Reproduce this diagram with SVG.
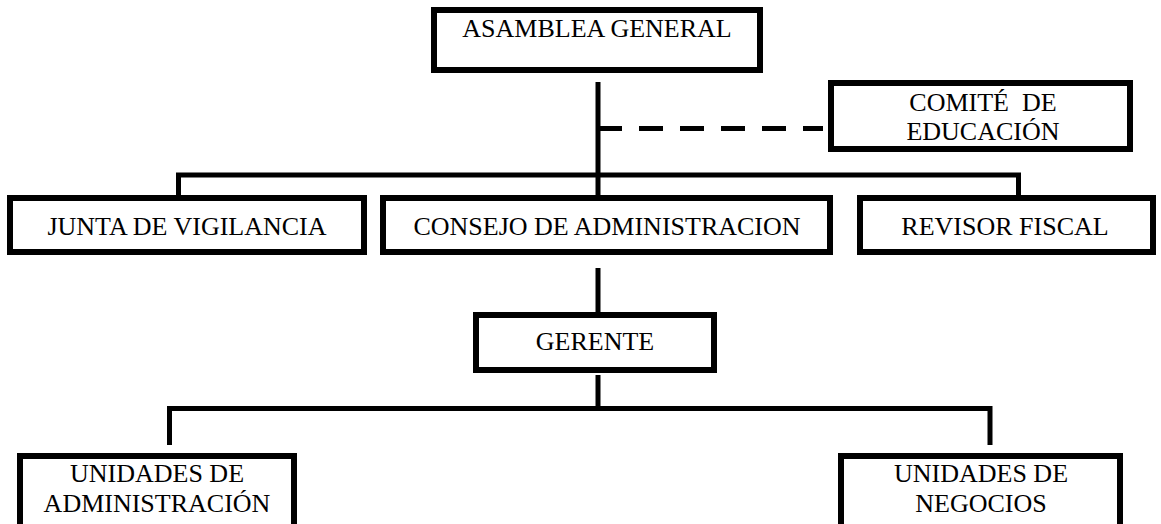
<svg xmlns="http://www.w3.org/2000/svg" width="1161" height="524" viewBox="0 0 1161 524">
<style>
.box{fill:#fff;stroke:#000;stroke-width:6}
.t{font-family:"Liberation Serif","Times New Roman",serif;font-size:26px;fill:#000;text-anchor:middle}
.c{fill:none;stroke:#000;stroke-width:5;stroke-linejoin:miter}
.d{fill:none;stroke:#000;stroke-width:5;stroke-dasharray:24 17}
</style>
<rect width="1161" height="524" fill="#fff"/>
<g id="connectors">
<path class="c" d="M598 82 V195"/>
<path class="d" d="M598 128.5 H823"/>
<path class="c" d="M178.5 195 V175 H1018.5 V195"/>
<path class="c" d="M598 268 V312"/>
<path class="c" d="M598 375 V408.5"/>
<path class="c" d="M169.5 445 V408.5 H990 V445"/>
</g>
<g id="asamblea"><rect class="box" x="434" y="10" width="326" height="60"/><text class="t" x="597" y="37">ASAMBLEA GENERAL</text></g>
<g id="comite"><rect class="box" x="831" y="83" width="299" height="66"/><text class="t" x="983" y="111" xml:space="preserve">COMITÉ  DE</text><text class="t" x="983" y="140">EDUCACIÓN</text></g>
<g id="junta"><rect class="box" x="10" y="198" width="354" height="54"/><text class="t" x="187" y="235">JUNTA DE VIGILANCIA</text></g>
<g id="consejo"><rect class="box" x="383" y="198" width="447" height="54"/><text class="t" x="607" y="235">CONSEJO DE ADMINISTRACION</text></g>
<g id="revisor"><rect class="box" x="860" y="198" width="293" height="54"/><text class="t" x="1005" y="235">REVISOR FISCAL</text></g>
<g id="gerente"><rect class="box" x="476" y="315" width="238" height="55"/><text class="t" x="595" y="350">GERENTE</text></g>
<g id="unidades-admin"><rect class="box" x="20" y="456" width="274" height="80"/><text class="t" x="157" y="482">UNIDADES DE</text><text class="t" x="157" y="512">ADMINISTRACIÓN</text></g>
<g id="unidades-negocios"><rect class="box" x="841" y="456" width="279" height="80"/><text class="t" x="981" y="482">UNIDADES DE</text><text class="t" x="981" y="512">NEGOCIOS</text></g>
</svg>
